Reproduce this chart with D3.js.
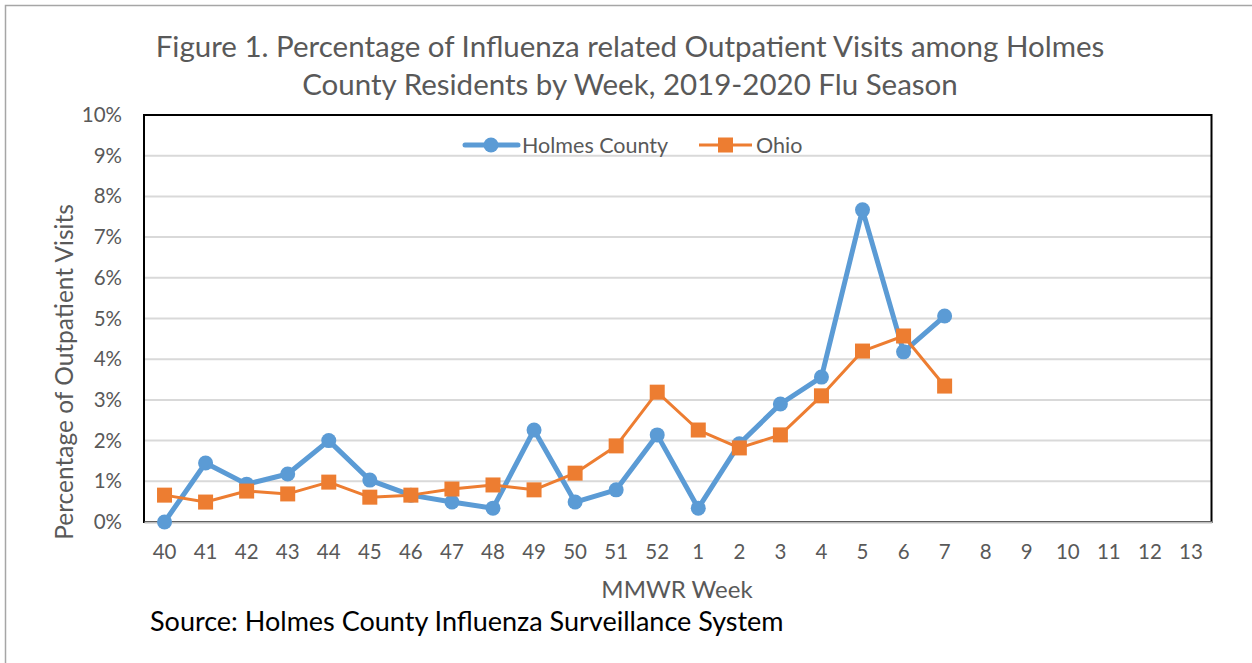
<!DOCTYPE html>
<html>
<head>
<meta charset="utf-8">
<script src="https://cdn.jsdelivr.net/npm/d3@7"></script>
<style>
  body { margin: 0; background: #fff; }
  text { font-family: Lato, "Open Sans", sans-serif; }
</style>
</head>
<body>
<div id="chart"></div>
<script>
var weeks = ["40","41","42","43","44","45","46","47","48","49","50","51","52",
             "1","2","3","4","5","6","7","8","9","10","11","12","13"];
// percent values, weeks 40 .. 7
var holmes = [0, 1.45, 0.93, 1.18, 2.0, 1.03, 0.66, 0.49, 0.34, 2.26, 0.49, 0.79, 2.14,
              0.34, 1.92, 2.9, 3.56, 7.67, 4.18, 5.06];
var ohio = [0.66, 0.49, 0.76, 0.69, 0.98, 0.61, 0.66, 0.81, 0.91, 0.79, 1.2, 1.87, 3.19,
            2.26, 1.82, 2.14, 3.1, 4.2, 4.57, 3.34];
var yTicks = [0,1,2,3,4,5,6,7,8,9,10];

var W = 1252, H = 663;
var left = 144, right = 1211.5, top_ = 115, bottom = 522;
var blue = "#5b9bd5", orange = "#ed7d31", grey = "#595959";

var svg = d3.select("#chart").append("svg")
    .attr("width", W).attr("height", H);

// outer frame
svg.append("rect")
   .attr("x", 5.5).attr("y", 5.5)
   .attr("width", W - 4).attr("height", H)
   .attr("fill", "none").attr("stroke", "#a6a6a6").attr("stroke-width", 1.5);

var x = d3.scaleBand().domain(weeks).range([left, right]);
var y = d3.scaleLinear().domain([0, 10]).range([bottom, top_]);

// grid
svg.selectAll("line.grid")
   .data(yTicks.slice(1))
   .enter()
   .append("line")
   .attr("class", "grid")
   .attr("x1", left).attr("x2", right)
   .attr("y1", function(d) { return y(d); })
   .attr("y2", function(d) { return y(d); })
   .attr("stroke", "#d9d9d9").attr("stroke-width", 2);

// plot area border
svg.append("rect")
   .attr("x", left).attr("y", top_)
   .attr("width", right - left).attr("height", bottom - top_)
   .attr("fill", "none").attr("stroke", "#000").attr("stroke-width", 2);

// y axis
var yAxis = svg.append("g")
   .attr("transform", "translate(" + left + ",0)")
   .call(d3.axisLeft(y).tickValues(yTicks).tickSize(0).tickPadding(22)
         .tickFormat(function(d) { return d + "%"; }));
yAxis.select(".domain").remove();
yAxis.selectAll("text").attr("fill", grey).style("font-size", "20.5px")
     .style("font-family", "Lato, sans-serif");

// x axis
var xAxis = svg.append("g")
   .attr("transform", "translate(0," + bottom + ")")
   .call(d3.axisBottom(x).tickSize(0).tickPadding(22));
xAxis.select(".domain").attr("stroke", "#bfbfbf").attr("stroke-width", 2);
xAxis.selectAll("text").attr("fill", grey).style("font-size", "20.5px")
     .style("font-family", "Lato, sans-serif");

function cx(i) { return x(weeks[i]) + x.bandwidth() / 2; }

var line = d3.line()
   .x(function(d, i) { return cx(i); })
   .y(function(d) { return y(d); });

svg.append("path").datum(holmes)
   .attr("d", line).attr("fill", "none")
   .attr("stroke", blue).attr("stroke-width", 5).attr("stroke-linejoin", "round");

svg.selectAll("circle.holmes")
   .data(holmes).enter()
   .append("circle").attr("class", "holmes")
   .attr("cx", function(d, i) { return cx(i); })
   .attr("cy", function(d) { return y(d); })
   .attr("r", 7.5).attr("fill", blue);

svg.append("path").datum(ohio)
   .attr("d", line).attr("fill", "none")
   .attr("stroke", orange).attr("stroke-width", 3).attr("stroke-linejoin", "round");

svg.selectAll("rect.ohio")
   .data(ohio).enter()
   .append("rect").attr("class", "ohio")
   .attr("x", function(d, i) { return cx(i) - 7.5; })
   .attr("y", function(d) { return y(d) - 7.5; })
   .attr("width", 15).attr("height", 15).attr("fill", orange);

// legend
var lg = svg.append("g");
lg.append("line").attr("x1", 465).attr("x2", 518).attr("y1", 145).attr("y2", 145)
  .attr("stroke", blue).attr("stroke-width", 5).attr("stroke-linecap", "round");
lg.append("circle").attr("cx", 491).attr("cy", 145).attr("r", 7.5).attr("fill", blue);
lg.append("text").attr("x", 522).attr("y", 152.5).text("Holmes County")
  .attr("fill", grey).style("font-size", "21.5px");
lg.append("line").attr("x1", 699).attr("x2", 752).attr("y1", 145).attr("y2", 145)
  .attr("stroke", orange).attr("stroke-width", 3);
lg.append("rect").attr("x", 718).attr("y", 137.5).attr("width", 15).attr("height", 15)
  .attr("fill", orange);
lg.append("text").attr("x", 756).attr("y", 152.5).text("Ohio")
  .attr("fill", grey).style("font-size", "21.5px");

// titles
var title = svg.append("text").attr("text-anchor", "middle").attr("fill", grey)
   .style("font-size", "29.5px");
title.append("tspan").attr("x", 630).attr("y", 57)
   .text("Figure 1. Percentage of Influenza related Outpatient Visits among Holmes");
title.append("tspan").attr("x", 630).attr("y", 95)
   .text("County Residents by Week, 2019-2020 Flu Season");

svg.append("text")
   .attr("transform", "translate(73,372) rotate(-90)")
   .attr("text-anchor", "middle").attr("fill", grey).style("font-size", "24.5px")
   .text("Percentage of Outpatient Visits");

svg.append("text").attr("x", 677).attr("y", 598)
   .attr("text-anchor", "middle").attr("fill", grey).style("font-size", "24px")
   .text("MMWR Week");

svg.append("text").attr("x", 150).attr("y", 631)
   .attr("fill", "#000").style("font-size", "27px")
   .text("Source: Holmes County Influenza Surveillance System");
</script>
</body>
</html>
